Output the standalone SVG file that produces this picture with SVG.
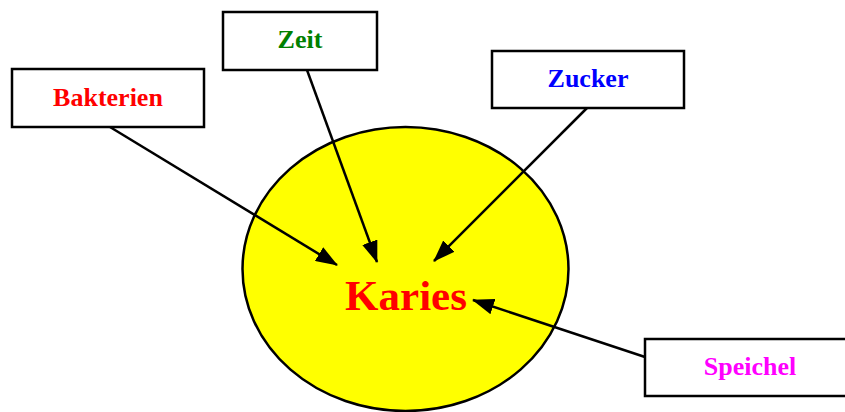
<svg xmlns="http://www.w3.org/2000/svg" width="845" height="412" viewBox="0 0 845 412">
  <style>
    .box { fill: #ffffff; stroke: #000000; stroke-width: 2.5; }
    .lbl { font-family: "Liberation Serif", "Times New Roman", serif; font-weight: bold; font-size: 26px; text-anchor: middle; }
    .conn { stroke: #000000; stroke-width: 2.5; fill: none; marker-end: url(#arrow); }
  </style>
  <defs>
    <marker id="arrow" markerUnits="userSpaceOnUse" markerWidth="22" markerHeight="16" refX="21" refY="8" orient="auto">
      <path d="M0,0 L22,8 L0,16 z" fill="#000000"/>
    </marker>
  </defs>
  <rect width="845" height="412" fill="#ffffff"/>

  <g id="karies">
    <ellipse cx="405.5" cy="269" rx="163" ry="142" fill="#ffff00" stroke="#000000" stroke-width="2.5"/>
    <text x="406" y="310" class="lbl" style="font-size:43px" fill="#ff0000">Karies</text>
  </g>

  <g id="bakterien">
    <rect class="box" x="12" y="69" width="192" height="58"/>
    <text x="108" y="106" class="lbl" fill="#ff0000">Bakterien</text>
  </g>

  <g id="zeit">
    <rect class="box" x="223" y="12" width="154" height="58"/>
    <text x="300" y="48" class="lbl" fill="#008000">Zeit</text>
  </g>

  <g id="zucker">
    <rect class="box" x="492" y="51" width="192" height="57"/>
    <text x="588" y="87" class="lbl" fill="#0000ff">Zucker</text>
  </g>

  <g id="speichel">
    <rect class="box" x="645" y="339" width="210" height="57"/>
    <text x="750" y="375" class="lbl" fill="#ff00ff">Speichel</text>
  </g>

  <g id="connectors">
    <line class="conn" x1="110" y1="127" x2="337" y2="265"/>
    <line class="conn" x1="307" y1="70" x2="377" y2="262"/>
    <line class="conn" x1="587" y1="108" x2="434" y2="261"/>
    <line class="conn" x1="645" y1="357" x2="473" y2="300"/>
  </g>
</svg>
